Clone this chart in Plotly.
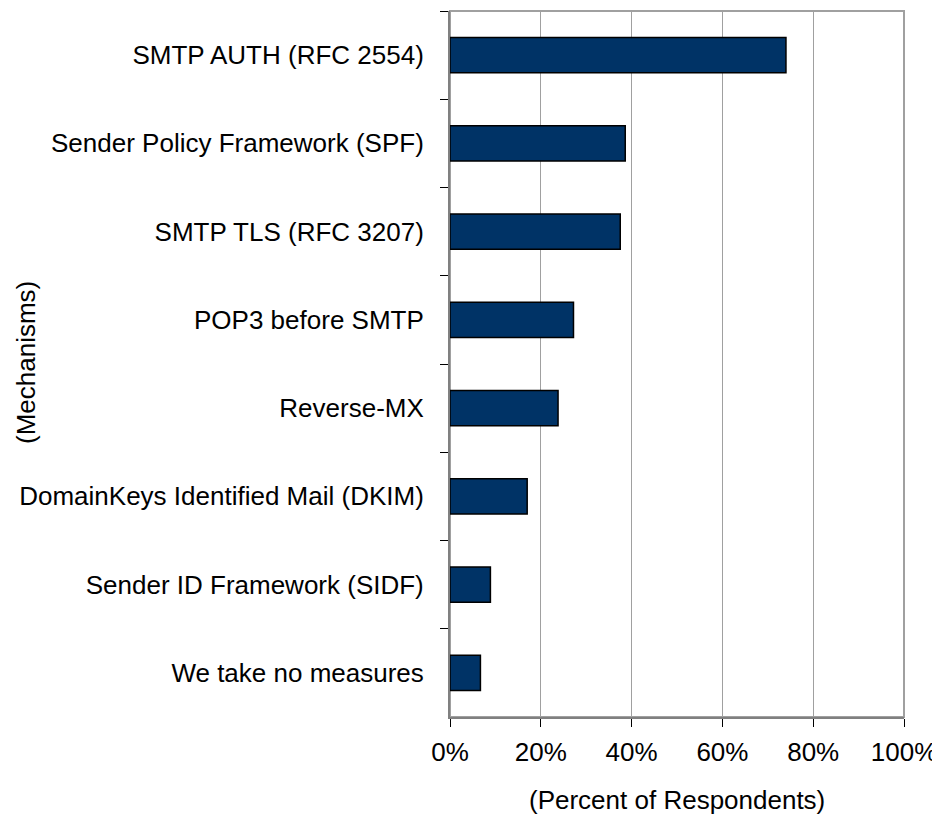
import plotly.graph_objects as go

mechanisms = [
    "SMTP AUTH (RFC 2554)",
    "Sender Policy Framework (SPF)",
    "SMTP TLS (RFC 3207)",
    "POP3 before SMTP",
    "Reverse-MX",
    "DomainKeys Identified Mail (DKIM)",
    "Sender ID Framework (SIDF)",
    "We take no measures",
]
percent = [74, 38.6, 37.5, 27.2, 23.8, 17, 8.9, 6.7]
x_ticks = [0, 20, 40, 60, 80, 100]
x_labels = ["0%", "20%", "40%", "60%", "80%", "100%"]

FONT = "Liberation Sans, Arial, sans-serif"
W, H = 940, 817
OFF = 7  # page offset of the plot div
# plot area in screen pixels: x 449..903, y 10..716
L, R, T, B = 449 - OFF, W - (903 - OFF), 10 - OFF, H - (716 - OFF)
pw = W - L - R
ph = H - T - B


def px_x(sx):
    return (sx - OFF - L) / pw


def px_y(sy):
    return (H - B - (sy - OFF)) / ph


fig = go.Figure(go.Bar(
    x=percent,
    y=mechanisms,
    orientation="h",
    width=0.4,
    marker=dict(color="#003366", line=dict(color="#000000", width=1.5)),
))

fig.update_layout(
    width=W, height=H,
    margin=dict(l=L, r=R, t=T, b=B),
    paper_bgcolor="white",
    plot_bgcolor="white",
    font=dict(family=FONT, size=26, color="#000000"),
    showlegend=False,
    xaxis=dict(
        range=[0, 100],
        tickvals=x_ticks,
        ticktext=x_labels,
        showgrid=True, gridcolor="#a0a0a0", gridwidth=1,
        showline=True, linecolor="#808080", linewidth=2,
        ticks="outside", ticklen=8, tickcolor="#000000", tickwidth=1,
        ticklabelstandoff=3,
        zeroline=False, fixedrange=True,
    ),
    yaxis=dict(
        type="category",
        categoryorder="array", categoryarray=mechanisms,
        autorange="reversed",
        tickson="boundaries",
        ticks="outside", ticklen=8, tickcolor="#000000", tickwidth=1,
        showline=True, linecolor="#808080", linewidth=2,
        showgrid=False, zeroline=False,
        ticklabelstandoff=19,
    ),
    shapes=[dict(type="rect", xref="paper", yref="paper", x0=0, x1=1, y0=0, y1=1,
                 line=dict(color="#a0a0a0", width=2), layer="below")],
    annotations=[
        dict(text="(Percent of Respondents)", xref="paper", yref="paper",
             x=px_x(676), y=px_y(799), xanchor="center", yanchor="middle",
             showarrow=False, font=dict(size=26)),
        dict(text="(Mechanisms)", xref="paper", yref="paper",
             x=px_x(25), y=px_y(362), xanchor="center", yanchor="middle",
             textangle=-90, showarrow=False, font=dict(size=26)),
    ],
)

fig.write_html("out.html")
